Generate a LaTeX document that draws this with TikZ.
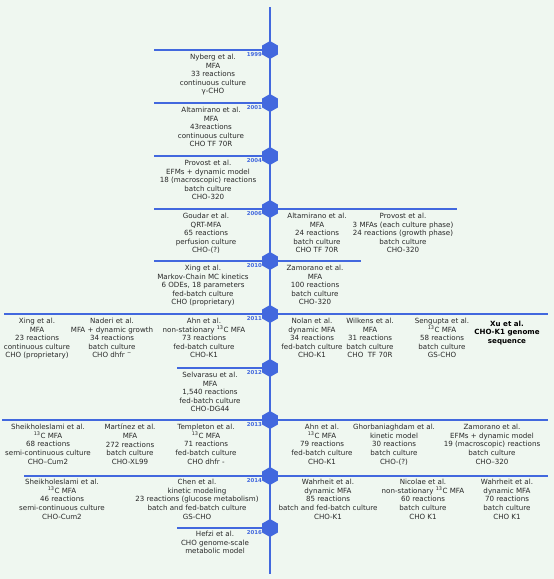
\documentclass[tikz,border=0pt]{standalone}
\usepackage{fontspec}
\setmainfont{DejaVu Sans}
\usetikzlibrary{shapes.geometric}

\definecolor{tlblue}{RGB}{66,104,222}
\definecolor{bgmint}{RGB}{239,247,240}
\definecolor{txtgray}{RGB}{40,40,40}
\newcommand{\thirteen}{\textsuperscript{13}}

\begin{document}
\begin{tikzpicture}[x=1pt, y=-1pt,
    hexa/.style={regular polygon, regular polygon sides=6, shape border rotate=90,
        fill=tlblue, minimum size=18pt, inner sep=0pt},
    branch/.style={tlblue, line width=1.7pt},
    refbox/.style={anchor=north, align=center, inner sep=0pt, text=txtgray,
        font=\fontsize{7.1}{8.6}\selectfont},
    yr/.style={anchor=east, inner sep=0pt, text=tlblue,
        font=\fontsize{5.4}{6}\selectfont\bfseries}]

    \fill[bgmint] (0,0) rectangle (554,579);
    \useasboundingbox (0,0) rectangle (554,579);

    % time axis
    \coordinate (top) at (270,7);
    \coordinate (bottom) at (270,574);
    \draw[tlblue, line width=2.3pt] (top) -- (bottom);

    % one branch per year
    \foreach \yy/\ypos/\xl/\xr in {1999/50/154/270, 2001/103/154/270, 2004/156/154/270,
        2006/209/154/457, 2010/261/154/361, 2011/314/4/548, 2012/368/177/270,
        2013/420/2/548, 2014/476/24/548, 2016/528/177/270} {
        \coordinate (a\yy) at (\xl,\ypos);
        \coordinate (b\yy) at (\xr,\ypos);
        \draw[branch] (a\yy) -- (b\yy);
        \node[hexa] (h\yy) at (270,\ypos) {};
        \node[yr] (t\yy) at (262,\ypos+4.5) {\yy};
    }

    % 1999 - 2004
    \node[refbox] (nyberg) at (213,54) {Nyberg et al.\\MFA\\33 reactions\\continuous culture\\γ-CHO};
    \node[refbox] (altamirano1) at (211,107) {Altamirano et al.\\MFA\\43reactions\\continuous culture\\CHO TF 70R};
    \node[refbox] (provost1) at (208,160) {Provost et al.\\EFMs + dynamic model\\18 (macroscopic) reactions\\batch culture\\CHO-320};

    % 2006 - 2010
    \node[refbox] (goudar) at (206,213) {Goudar et al.\\QRT-MFA\\65 reactions\\perfusion culture\\CHO-(?)};
    \node[refbox] (altamirano2) at (317,213) {Altamirano et al.\\MFA\\24 reactions\\batch culture\\CHO TF 70R};
    \node[refbox] (provost2) at (403,213) {Provost et al.\\3 MFAs (each culture phase)\\24 reactions (growth phase)\\batch culture\\CHO-320};
    \node[refbox] (xing1) at (203,265) {Xing et al.\\Markov-Chain MC kinetics\\6 ODEs, 18 parameters\\fed-batch culture\\CHO (proprietary)};
    \node[refbox] (zamorano1) at (315,265) {Zamorano et al.\\MFA\\100 reactions\\batch culture\\CHO-320};

    % 2011 - 2012
    \node[refbox] (xing2) at (37,318) {Xing et al.\\MFA\\23 reactions\\continuous culture\\CHO (proprietary)};
    \node[refbox] (naderi) at (112,318) {Naderi et al.\\MFA + dynamic growth\\34 reactions\\batch culture\\CHO dhfr \textsuperscript{−}};
    \node[refbox] (ahn1) at (204,318) {Ahn et al.\\non-stationary \thirteen C MFA\\73 reactions\\fed-batch culture\\CHO-K1};
    \node[refbox] (nolan) at (312,318) {Nolan et al.\\dynamic MFA\\34 reactions\\fed-batch culture\\CHO-K1};
    \node[refbox] (wilkens) at (370,318) {Wilkens et al.\\MFA\\31 reactions\\batch culture\\CHO\ \ TF 70R};
    \node[refbox] (sengupta) at (442,318) {Sengupta et al.\\\thirteen C MFA\\58 reactions\\batch culture\\GS-CHO};
    \node[refbox, text=black, font=\fontsize{7.1}{8.4}\selectfont\bfseries] (xu) at (507,321) {Xu et al.\\CHO-K1 genome\\sequence};
    \node[refbox] (selvarasu) at (210,372) {Selvarasu et al.\\MFA\\1,540 reactions\\fed-batch culture\\CHO-DG44};

    % 2013
    \node[refbox] (sheikh1) at (48,424) {Sheikholeslami et al.\\\thirteen C MFA\\68 reactions\\semi-continuous culture\\CHO–Cum2};
    \node[refbox] (martinez) at (130,424) {Martínez et al.\\MFA\\272 reactions\\batch culture\\CHO-XL99};
    \node[refbox] (templeton) at (206,424) {Templeton et al.\\\thirteen C MFA\\71 reactions\\fed-batch culture\\CHO dhfr -};
    \node[refbox] (ahn2) at (322,424) {Ahn et al.\\\thirteen C MFA\\79 reactions\\fed-batch culture\\CHO-K1};
    \node[refbox] (ghorb) at (394,424) {Ghorbaniaghdam et al.\\kinetic model\\30 reactions\\batch culture\\CHO-(?)};
    \node[refbox] (zamorano2) at (492,424) {Zamorano et al.\\EFMs + dynamic model\\19 (macroscopic) reactions\\batch culture\\CHO–320};

    % 2014 - 2016
    \node[refbox] (sheikh2) at (62,479) {Sheikholeslami et al.\\\thirteen C MFA\\46 reactions\\semi-continuous culture\\CHO-Cum2};
    \node[refbox] (chen) at (197,479) {Chen et al.\\kinetic modeling\\23 reactions (glucose metabolism)\\batch and fed-batch culture\\GS-CHO};
    \node[refbox] (wahrheit1) at (328,479) {Wahrheit et al.\\dynamic MFA\\85 reactions\\batch and fed-batch culture\\CHO-K1};
    \node[refbox] (nicolae) at (423,479) {Nicolae et al.\\non-stationary \thirteen C MFA\\60 reactions\\batch culture\\CHO K1};
    \node[refbox] (wahrheit2) at (507,479) {Wahrheit et al.\\dynamic MFA\\70 reactions\\batch culture\\CHO K1};
    \node[refbox] (hefzi) at (215,531) {Hefzi et al.\\CHO genome-scale\\metabolic model};
\end{tikzpicture}
\end{document}
